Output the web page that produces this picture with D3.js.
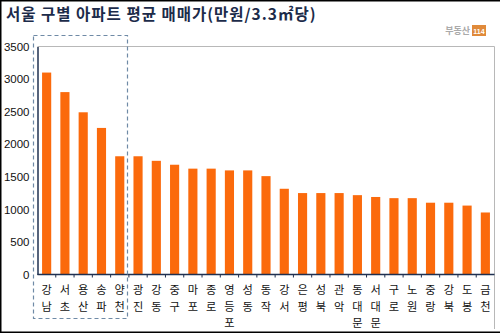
<!DOCTYPE html>
<html><head><meta charset="utf-8">
<script src="https://cdn.jsdelivr.net/npm/d3@7"></script>
<style>body{margin:0;background:#fff}svg{display:block}</style>
</head><body>
<script>
const names = ["강남","서초","용산","송파","양천","광진","강동","중구","마포","종로","영등포","성동","동작","강서","은평","성북","관악","동대문","서대문","구로","노원","중랑","강북","도봉","금천"];
const values = [3100,2800,2490,2250,1815,1815,1745,1685,1625,1625,1598,1598,1510,1316,1250,1250,1250,1218,1190,1172,1172,1102,1102,1058,952];
const yTicks = [0,500,1000,1500,2000,2500,3000,3500];
const title = "서울 구별 아파트 평균 매매가(만원/3.3㎡당)";

(function(){
const W=500,H=333;
const svg=d3.select("body").append("svg").attr("width",W).attr("height",H);
svg.append("rect").attr("x",0).attr("y",0).attr("width",W).attr("height",H).attr("fill","#fff");
svg.append("path").attr("d","M500,0.75H0.75V332.25H500").attr("fill","none").attr("stroke","#000").attr("stroke-width",1.5);

const pl=37.5, pr=494.5, pt=46.5, pb=274.5;
const x=d3.scaleBand().domain(d3.range(names.length)).range([pl,pr]).paddingInner(0.5).paddingOuter(0.25);
const y=d3.scaleLinear().domain([0,3500]).range([pb,pt]);

svg.append("path").attr("d",`M${pl},${pt}H${pr}V${H-4}`).attr("fill","none").attr("stroke","#b8b8b8").attr("stroke-width",1);

svg.append("text").attr("x",6).attr("y",20).text(title)
  .attr("font-family","'Noto Sans CJK KR',sans-serif").attr("font-weight","bold").attr("font-size",15.5)
  .attr("letter-spacing",1).attr("fill","#1c2b4a");

const lg=svg.append("g");
lg.append("text").attr("x",470).attr("y",34).attr("text-anchor","end").text("부동산")
  .attr("font-family","'Noto Sans CJK KR',sans-serif").attr("font-weight","bold").attr("font-size",9).attr("fill","#aaa");
lg.append("rect").attr("x",472).attr("y",25).attr("width",14).attr("height",11).attr("fill","#e08a3a");
lg.append("text").attr("x",479).attr("y",34).attr("text-anchor","middle").text("114")
  .attr("font-family","Arial,sans-serif").attr("font-weight","bold").attr("font-size",7).attr("fill","#fff");

svg.append("g").selectAll("rect").data(values).join("rect")
  .attr("x",(d,i)=>x(i)).attr("width",x.bandwidth())
  .attr("y",d=>y(d)).attr("height",d=>pb-y(d)).attr("fill","#fb6a0c");

const ya=svg.append("g").attr("transform",`translate(${pl},0)`)
  .call(d3.axisLeft(y).tickValues(yTicks).tickSize(0).tickPadding(8).tickFormat(d3.format("d")));
ya.select(".domain").attr("stroke","#1f3050").attr("stroke-width",1.5);
ya.selectAll("text").attr("font-family","Arial,'Liberation Sans',sans-serif").attr("font-size",11.5).attr("fill","#111");

svg.append("line").attr("x1",pl).attr("x2",pr).attr("y1",pb).attr("y2",pb).attr("stroke","#1f3050").attr("stroke-width",1.5);
const bnd=d3.range(1,names.length).map(i=>x(i)-x.step()*x.paddingInner()/2);
svg.append("g").selectAll("line").data(bnd).join("line")
  .attr("x1",d=>d).attr("x2",d=>d).attr("y1",pb).attr("y2",pb+3).attr("stroke","#1f3050").attr("stroke-width",1);

const lab=svg.append("g");
names.forEach((n,i)=>{
  const cx=x(i)+x.bandwidth()/2;
  [...n].forEach((ch,j)=>{
    lab.append("text").attr("x",cx).attr("y",294+j*16.5).attr("text-anchor","middle").text(ch)
      .attr("font-family","'Noto Sans CJK KR',sans-serif").attr("font-size",11.2).attr("fill","#111");
  });
});

svg.append("rect").attr("x",33.5).attr("y",35.5).attr("width",94).attr("height",283)
  .attr("fill","none").attr("stroke","#6f8aa6").attr("stroke-width",1.2).attr("stroke-dasharray","4,3");
})();
</script>
</body></html>
